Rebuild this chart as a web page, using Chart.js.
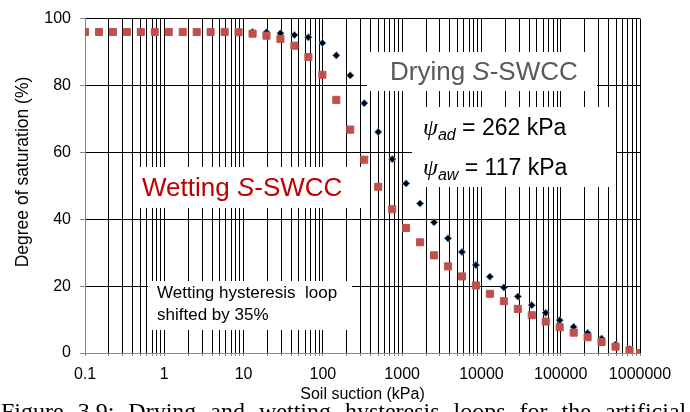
<!DOCTYPE html>
<html>
<head>
<meta charset="utf-8">
<script src="https://cdn.jsdelivr.net/npm/chart.js@4/dist/chart.umd.min.js"></script>
<style>
    html, body { margin: 0; padding: 0; background: #fff; overflow: hidden; }
    #wrap { position: relative; width: 690px; height: 412px; overflow: hidden; }
    #caption {
        position: absolute; left: 1px; top: 399px; width: 800px;
        font-family: 'Liberation Serif', 'Times New Roman', serif;
        font-size: 24px; line-height: 24px; white-space: nowrap;
        word-spacing: 8px; color: #000;
    }
</style>
</head>
<body>
<div id="wrap">
    <canvas id="swcc" width="690" height="412"></canvas>
    <div id="caption">Figure 3.9: Drying and wetting hysteresis loops for the artificial</div>
</div>
<script>
// soil suction (kPa), one value per measured point
const suction = [0.1, 0.15, 0.225, 0.3375, 0.506, 0.759, 1.139, 1.709, 2.563, 3.844,
    5.767, 8.65, 12.98, 19.46, 29.19, 43.79, 65.68, 98.53, 147.8, 221.7,
    332.5, 498.8, 748.2, 1122, 1684, 2525, 3788, 5682, 8523, 12784,
    19176, 28764, 43146, 64719, 97078, 145617, 218425, 327638, 491457, 737185,
    1000000];

// degree of saturation (%)
const drying = [96.0, 96.0, 96.0, 96.0, 96.0, 96.0, 96.0, 96.0, 96.0, 96.0,
    96.0, 96.0, 96.0, 95.9, 95.6, 95.1, 94.4, 92.7, 89.0, 83.0,
    74.7, 66.1, 58.0, 50.7, 44.7, 39.1, 34.3, 30.2, 26.3, 22.8,
    19.6, 16.9, 14.3, 12.0, 9.8, 7.8, 6.0, 4.3, 2.5, 1.2,
    0];
const wetting = [96.0, 96.0, 96.0, 96.0, 96.0, 96.0, 96.0, 96.0, 96.0, 96.0,
    96.0, 95.9, 95.5, 94.9, 93.9, 91.9, 88.5, 83.2, 75.7, 66.8,
    57.8, 49.7, 43.0, 37.4, 33.1, 29.2, 25.9, 22.9, 20.2, 17.7,
    15.5, 13.2, 11.3, 9.4, 7.7, 6.1, 4.7, 3.3, 1.9, 0.8,
    0];

const xTickLabels = ['0.1', '1', '10', '100', '1000', '10000', '100000', '1000000'];
const yTicks = [0, 20, 40, 60, 80, 100];

const FONT = "'Liberation Sans', Arial, sans-serif";

function toPoints(ys) {
    return suction.map((x, i) => ({ x: x, y: ys[i] }));
}

// white boxes with the text notes, drawn over the grid but under the markers
const notesPlugin = {
    id: 'notes',
    beforeDatasetsDraw(chart) {
        const ctx = chart.ctx;
        ctx.save();
        ctx.fillStyle = '#fff';
        ctx.fillRect(367, 52, 230, 39);
        ctx.fillRect(412, 107, 204, 80);
        ctx.fillRect(139, 167, 225, 41);
        ctx.fillRect(148, 281, 204, 49);

        ctx.textBaseline = 'alphabetic';
        ctx.textAlign = 'left';

        // Drying S-SWCC
        let x = 390;
        ctx.fillStyle = '#595959';
        ctx.font = '26px ' + FONT;
        ctx.fillText('Drying ', x, 80);
        x += ctx.measureText('Drying ').width;
        ctx.font = 'italic 26px ' + FONT;
        ctx.fillText('S', x, 80);
        x += ctx.measureText('S').width;
        ctx.font = '26px ' + FONT;
        ctx.fillText('-SWCC', x, 80);

        // Wetting S-SWCC
        x = 142;
        ctx.fillStyle = '#c00000';
        ctx.fillText('Wetting ', x, 196);
        x += ctx.measureText('Wetting ').width;
        ctx.font = 'italic 26px ' + FONT;
        ctx.fillText('S', x, 196);
        x += ctx.measureText('S').width;
        ctx.font = '26px ' + FONT;
        ctx.fillText('-SWCC', x, 196);

        // air-entry values
        ctx.fillStyle = '#000';
        const psiLines = [['ad', '262', 135], ['aw', '117', 175]];
        psiLines.forEach(([sub, val, base]) => {
            let px = 423;
            ctx.font = "italic 24px 'Liberation Serif', serif";
            ctx.fillText('\u03C8', px, base);
            px += ctx.measureText('\u03C8').width;
            ctx.font = 'italic 16px ' + FONT;
            ctx.fillText(sub, px, base + 5);
            px += ctx.measureText(sub).width;
            ctx.font = '23px ' + FONT;
            ctx.fillText(' = ' + val + ' kPa', px, base);
        });

        ctx.font = '17px ' + FONT;
        ctx.fillText('Wetting hysteresis  loop', 157, 298);
        ctx.fillText('shifted by 35%', 157, 320);

        // y axis title
        ctx.save();
        ctx.translate(23, 172);
        ctx.rotate(-Math.PI / 2);
        ctx.textAlign = 'center';
        ctx.textBaseline = 'middle';
        ctx.font = '17.5px ' + FONT;
        ctx.fillText('Degree of saturation (%)', 0, 0);
        ctx.restore();

        ctx.restore();
    }
};

const ctx = document.getElementById('swcc').getContext('2d');
const swccChart = new Chart(ctx, {
    type: 'scatter',
    data: {
        datasets: [{
            label: 'Wetting',
            data: toPoints(wetting),
            pointStyle: 'rect',
            pointRadius: 5,
            backgroundColor: '#c0504d',
            borderColor: '#c0504d',
            borderWidth: 1,
            order: 0
        }, {
            label: 'Drying',
            data: toPoints(drying),
            pointStyle: 'rectRot',
            pointRadius: 3.6,
            backgroundColor: '#000',
            borderColor: '#4f81bd',
            borderWidth: 1,
            order: 1
        }]
    },
    options: {
        responsive: false,
        animation: false,
        layout: { padding: { top: 11, right: 50, left: 0, bottom: 0 } },
        plugins: {
            legend: { display: false },
            tooltip: { enabled: false }
        },
        scales: {
            x: {
                type: 'logarithmic',
                min: 0.1,
                max: 1000000,
                afterFit: (scale) => { scale.height = 59; },
                afterBuildTicks: (scale) => {
                    const ticks = [];
                    for (let e = -1; e < 6; e++) {
                        for (let m = 1; m < 10; m++) {
                            ticks.push({ value: Number((m * Math.pow(10, e)).toPrecision(3)) });
                        }
                    }
                    ticks.push({ value: 1000000 });
                    scale.ticks = ticks;
                },
                grid: { color: '#000', lineWidth: 1, tickLength: 3, tickColor: '#888' },
                border: { color: '#888', width: 1 },
                ticks: {
                    autoSkip: false,
                    maxRotation: 0,
                    padding: 9,
                    color: '#000',
                    font: { family: FONT, size: 16 },
                    callback: (value) => {
                        const s = String(value);
                        return xTickLabels.includes(s) ? s : '';
                    }
                },
                title: {
                    display: true,
                    text: 'Soil suction (kPa)',
                    color: '#000',
                    font: { family: FONT, size: 16 },
                    padding: { top: 0, bottom: 8 }
                }
            },
            y: {
                min: 0,
                max: 100,
                afterFit: (scale) => { scale.width = 85; },
                afterBuildTicks: (scale) => {
                    scale.ticks = yTicks.map((v) => ({ value: v }));
                },
                grid: { color: '#000', lineWidth: 1, tickLength: 5, tickColor: '#888' },
                border: { color: '#888', width: 1 },
                ticks: {
                    padding: 9,
                    color: '#000',
                    font: { family: FONT, size: 16 }
                }
            }
        }
    },
    plugins: [notesPlugin]
});
</script>
</body>
</html>
